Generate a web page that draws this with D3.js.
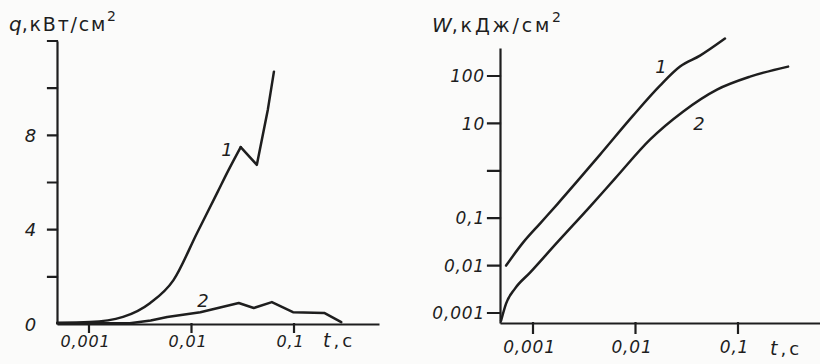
<!DOCTYPE html>
<html><head><meta charset="utf-8">
<script src="https://cdn.jsdelivr.net/npm/d3@7/dist/d3.min.js"></script>
<style>
body{margin:0;background:#fbfbfa}
svg{display:block}
text{fill:#1e1e1e}
</style>
</head><body>
<svg width="820" height="364"></svg>
<script>
// ---------- data ----------
const xTickValues = [0.001, 0.01, 0.1];
const xTickLabels = ["0,001", "0,01", "0,1"];
const qTickValues = [0, 2, 4, 6, 8, 10, 12];
const qTickLabels = ["0", "", "4", "", "8", "", ""];
const wTickValues = [0.001, 0.01, 0.1, 1, 10, 100];
const wTickLabels = ["0,001", "0,01", "0,1", "", "10", "100"];

// left panel: q, kW/cm^2 vs t, s  (curve 1 peaks at index 8)
const q1T = [0.00049, 0.00102, 0.00215, 0.00396, 0.00667, 0.0113, 0.018, 0.0225, 0.0302, 0.0434, 0.0556, 0.0637];
const q1V = [0.05, 0.08, 0.3, 0.89, 1.86, 3.85, 5.6, 6.45, 7.5, 6.75, 9.1, 10.7];
const q2T = [0.00049, 0.0025, 0.004, 0.0058, 0.0122, 0.0289, 0.0405, 0.0608, 0.0977, 0.197, 0.289];
const q2V = [0.03, 0.03, 0.15, 0.3, 0.5, 0.89, 0.68, 0.93, 0.5, 0.47, 0.08];

// right panel: W, kJ/cm^2 vs t, s
const w1T = [0.000546, 0.000799, 0.00117, 0.001714, 0.00268, 0.00451, 0.00946, 0.01734, 0.0272, 0.0426, 0.0746];
const w1V = [0.01, 0.0305, 0.077, 0.194, 0.59, 2.2, 14.6, 62.7, 158, 269, 616];
const w2T = [0.000488, 0.000546, 0.000667, 0.000935, 0.001714, 0.0036, 0.0063, 0.01384, 0.02904, 0.0624, 0.131, 0.308];
const w2V = [0.00069, 0.00158, 0.00327, 0.0071, 0.0305, 0.176, 0.684, 4.55, 17.7, 51.7, 97, 158];

// ---------- drawing ----------
const ink = "#1e1e1e";
const tickFont = "'DejaVu Sans', sans-serif";
const svg = d3.select("svg");

function styleAxis(g, fs) {
  g.select(".domain").attr("stroke", ink).attr("stroke-width", 2.2);
  g.selectAll(".tick line").remove();
  g.selectAll(".tick text")
    .attr("fill", ink)
    .attr("font-family", tickFont)
    .attr("font-style", "italic")
    .attr("font-size", fs)
    .attr("letter-spacing", "0.8px");
}

// explicit tick marks drawn as one path per axis
function ticksV(g, scale, vals, x0, len) {
  const d = vals.map(v => `M${x0},${scale(v)}H${x0 - len}`).join("");
  g.append("path").attr("d", d).attr("fill", "none")
    .attr("stroke", ink).attr("stroke-width", 2.2).attr("stroke-linecap", "square");
}
function ticksH(g, scale, vals, y0, len) {
  const d = vals.map(v => `M${scale(v)},${y0}V${y0 + len}`).join("");
  g.append("path").attr("d", d).attr("fill", "none")
    .attr("stroke", ink).attr("stroke-width", 2.2).attr("stroke-linecap", "square");
}

function curve(g, xs, ys, tArr, vArr, curveType) {
  const pts = tArr.map((t, i) => [t, vArr[i]]);
  g.append("path")
    .datum(pts)
    .attr("fill", "none")
    .attr("stroke", ink)
    .attr("stroke-width", 2.5)
    .attr("stroke-linejoin", "round")
    .attr("stroke-linecap", "round")
    .attr("d", d3.line().x(d => xs(d[0])).y(d => ys(d[1])).curve(curveType));
}

function label(g, x, y, txt, fs) {
  return g.append("text").attr("x", x).attr("y", y)
    .attr("font-family", tickFont).attr("font-size", fs)
    .attr("font-style", "italic")
    .attr("text-anchor", "middle").attr("fill", ink).text(txt);
}

function title(g, x, y, lead, rest, sp) {
  const t = g.append("text").attr("x", x).attr("y", y)
    .attr("font-family", tickFont).attr("fill", ink);
  t.append("tspan").attr("font-size", 20).attr("font-style", "italic").text(lead);
  t.append("tspan").attr("font-size", 19).attr("letter-spacing", sp + "px").text(rest);
  t.append("tspan").attr("font-size", 14).attr("dy", -10).attr("dx", 0).text("2");
}

function tLabel(g, x, y) {
  const t = g.append("text").attr("x", x).attr("y", y)
    .attr("font-family", tickFont).attr("fill", ink);
  t.append("tspan").attr("font-size", 19).attr("font-style", "italic").text("t");
  t.append("tspan").attr("font-size", 18).attr("dx", 3).text(",");
  t.append("tspan").attr("font-size", 18).attr("dx", 3).text("c");
}

// ----- left panel -----
const L = svg.append("g");
const xL = d3.scaleLog().domain([Math.pow(10, -3.312), Math.pow(10, -0.171)]).range([57, 379]);
const yL = d3.scaleLinear().domain([0, 12]).range([324, 41]);

L.append("g").attr("transform", "translate(0,324)")
  .call(d3.axisBottom(xL).tickValues(xTickValues).tickSizeOuter(0).tickSizeInner(8).tickPadding(4)
    .tickFormat((d, i) => xTickLabels[i]))
  .call(g => styleAxis(g, 16))
  .call(g => g.selectAll(".tick text").attr("dx", -4));
ticksH(L, xL, xTickValues, 324, 8);

L.append("g").attr("transform", "translate(57,0)")
  .call(d3.axisLeft(yL).tickValues(qTickValues).tickSizeOuter(0).tickSizeInner(9).tickPadding(11)
    .tickFormat((d, i) => qTickLabels[i]))
  .call(g => styleAxis(g, 18))
  .call(g => g.selectAll(".tick text").attr("dy", "0.34em"));
ticksV(L, yL, qTickValues.slice(1), 57, 9);

curve(L, xL, yL, q2T, q2V, d3.curveLinear);
curve(L, xL, yL, q1T.slice(0, 9), q1V.slice(0, 9), d3.curveMonotoneX);
curve(L, xL, yL, q1T.slice(8), q1V.slice(8), d3.curveLinear);

label(L, 227, 156, "1", 18);
label(L, 203, 307, "2", 18);
title(L, 9, 31, "q", ",кВт/см", 1.8);
tLabel(L, 323, 347);

// ----- right panel -----
const R = svg.append("g");
const xR = d3.scaleLog().domain([Math.pow(10, -3.322), Math.pow(10, -0.2)]).range([500, 820]);
const yR = d3.scaleLog().domain([Math.pow(10, -3.211), Math.pow(10, 2.591)]).range([323, 48]);

R.append("g").attr("transform", "translate(0,323)")
  .call(d3.axisBottom(xR).tickValues(xTickValues).tickSizeOuter(0).tickSizeInner(10).tickPadding(8)
    .tickFormat((d, i) => xTickLabels[i]))
  .call(g => styleAxis(g, 17))
  .call(g => g.selectAll(".tick text").attr("dx", -4));
ticksH(R, xR, xTickValues, 323, 10);

R.append("g").attr("transform", "translate(500,0)")
  .call(d3.axisLeft(yR).tickValues(wTickValues).tickSizeOuter(0).tickSizeInner(12).tickPadding(3)
    .tickFormat((d, i) => wTickLabels[i]))
  .call(g => styleAxis(g, 17))
  .call(g => g.selectAll(".tick text").attr("dy", "0.34em"));
ticksV(R, yR, wTickValues, 500, 12);

curve(R, xR, yR, w1T, w1V, d3.curveMonotoneX);
curve(R, xR, yR, w2T, w2V, d3.curveMonotoneX);

label(R, 661, 73, "1", 18);
label(R, 699, 130, "2", 18);
title(R, 432, 32, "W", ",кДж/см", 2.8);
tLabel(R, 770, 355);
</script>
</body></html>
